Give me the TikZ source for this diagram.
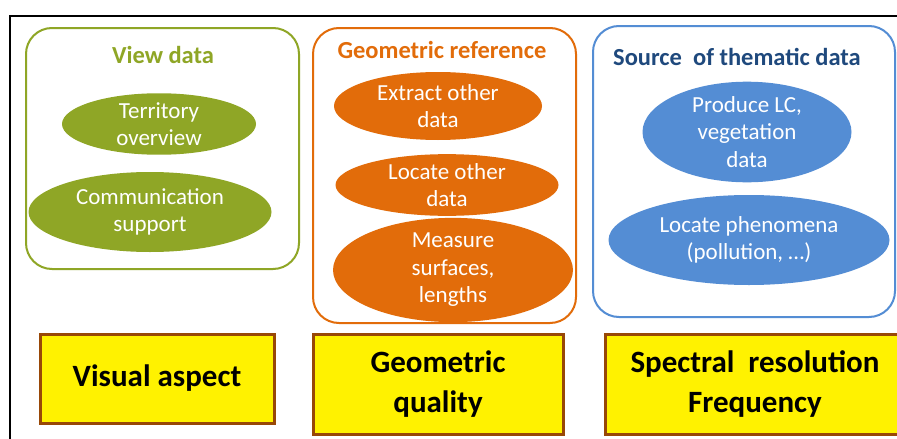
\documentclass[tikz,border=0pt]{standalone}
\usepackage{fontspec}
\setmainfont{Carlito}
\usetikzlibrary{shapes.geometric}
\definecolor{ogreen}{RGB}{143,166,38}
\definecolor{oorange}{RGB}{226,108,10}
\definecolor{oblue}{RGB}{84,141,212}
\definecolor{dblue}{RGB}{31,73,125}
\definecolor{brownb}{RGB}{152,72,7}
\tikzset{
  group/.style={draw=#1, line width=2pt, rounded corners=26pt},
  ell/.style={ellipse, fill=#1, inner sep=0pt, text=white, align=center,
    font=\fontsize{23}{27.5}\selectfont},
  gtitle/.style={text=#1, font=\bfseries\fontsize{24.5}{28}\selectfont, inner sep=0pt},
  quality/.style={draw=brownb, line width=3pt, fill=yellow, align=center,
    font=\bfseries\fontsize{31}{40}\selectfont, inner sep=0pt},
}
\begin{document}
\begin{tikzpicture}[x=1pt,y=-1pt]
\useasboundingbox (0,0) rectangle (897,439);
\fill[white] (0,0) rectangle (897,439);
% outer frame
\coordinate (fbl) at (10,445);
\coordinate (ftl) at (10,16);
\coordinate (ftr) at (900,16);
\draw[line width=1.6pt] (fbl) -- (ftl) -- (ftr);

% green group
\draw[group=ogreen] (26,28) rectangle (299,269);
\node[gtitle=ogreen] (t1) at (163,55) {View data};
\node[ell=ogreen, minimum width=194pt, minimum height=61pt] (e11) at (159,124) {Territory\\overview};
\node[ell=ogreen, minimum width=243pt, minimum height=80pt] (e12) at (150,212) {Communication\\support};

% orange group
\draw[group=oorange] (313,28) rectangle (576,323);
\node[gtitle=oorange] (t2) at (442,50) {Geometric reference};
\node[ell=oorange, minimum width=208pt, minimum height=68pt] (e21) at (438,106) {Extract other\\data};
\node[ell=oorange, minimum width=223pt, minimum height=60pt] (e22) at (447,185) {Locate other\\data};
\node[ell=oorange, minimum width=240pt, minimum height=80pt] (e23) at (453,270) {Measure\\surfaces,\\lengths};

% blue group
\draw[group=oblue] (593,26) rectangle (895,317);
\node[gtitle=dblue] (t3) at (737,57) {Source\ \ of thematic data};
\node[ell=oblue, minimum width=209pt, minimum height=100pt] (e31) at (747,132) {Produce LC,\\vegetation\\data};
\node[ell=oblue, minimum width=281pt, minimum height=90pt] (e32) at (749,240) {Locate phenomena\\(pollution, …)};

% quality boxes
\node[quality, minimum width=234pt, minimum height=89pt] (q1) at (157,378.5) {Visual aspect};
\node[quality, minimum width=250pt, minimum height=100pt] (q2) at (438,384) {Geometric\\quality};
\node[quality, minimum width=300pt, minimum height=100pt] (q3) at (755,384) {Spectral\ \ resolution\\Frequency};
\end{tikzpicture}
\end{document}
